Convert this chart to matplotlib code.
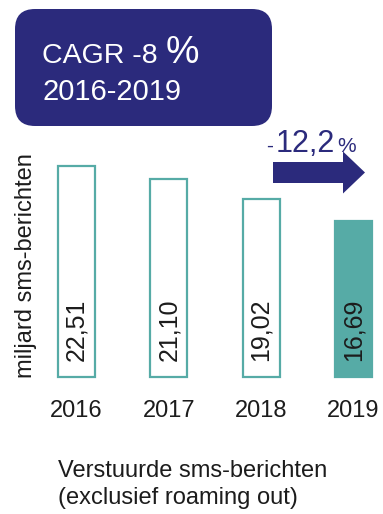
import matplotlib
matplotlib.use("Agg")
import matplotlib.pyplot as plt
from matplotlib.patches import FancyBboxPatch, FancyArrow

years = ["2016", "2017", "2018", "2019"]
sms_billions = [22.51, 21.10, 19.02, 16.69]
value_labels = ["22,51", "21,10", "19,02", "16,69"]
cagr_text = "CAGR -8"
cagr_period = "2016-2019"
change_value = "12,2"
y_label = "miljard sms-berichten"
caption = ["Verstuurde sms-berichten", "(exclusief roaming out)"]

TEAL = "#56aba6"
NAVY = "#2b2a7c"
INK = "#1c1c1c"

plt.rcParams["font.family"] = ["Liberation Sans", "DejaVu Sans"]

W, H = 383, 514
fig = plt.figure(figsize=(W / 100, H / 100), dpi=100)

# bar axes spans the whole figure; limits chosen so bars sit in their slots
ax = fig.add_axes([0, 0, 1, 1])
step, x0 = 92.3, 76.5
ax.set_xlim(-x0 / step, (W - x0) / step)
scale, base = 9.37, 377
ax.set_ylim((base - H) / scale, base / scale)
ax.axis("off")

for i, (v, lab) in enumerate(zip(sms_billions, value_labels)):
    last = i == len(sms_billions) - 1
    ax.bar(i, v, width=0.4, color=TEAL if last else "white",
           edgecolor=TEAL, linewidth=1.6, zorder=2)
    ax.text(i, 5.0, lab, rotation=90, ha="center", va="center",
            fontsize=18, color=INK, zorder=3)
    ax.text(i, -3.6, years[i], ha="center", va="center",
            fontsize=17, color=INK)

# overlay in pixel coordinates for the annotations
ov = fig.add_axes([0, 0, 1, 1])
ov.set_xlim(0, W)
ov.set_ylim(H, 0)
ov.axis("off")
ov.patch.set_alpha(0)

box = FancyBboxPatch((15, 9), 257, 117, boxstyle="round,pad=0,rounding_size=20",
                     facecolor=NAVY, edgecolor="none")
ov.add_patch(box)
ov.text(42, 63, cagr_text, fontsize=20.5, color="white", va="baseline")
ov.text(166, 63, "%", fontsize=27, color="white", va="baseline")
ov.text(42, 100, cagr_period, fontsize=21, color="white", va="baseline")

ov.add_patch(FancyArrow(273, 172.5, 92, 0, width=21, head_width=42,
                        head_length=22, length_includes_head=True,
                        facecolor=NAVY, edgecolor="none"))
ov.text(266, 152, "-", fontsize=15, color=NAVY, va="baseline")
ov.text(276, 152, change_value, fontsize=22, color=NAVY, va="baseline")
ov.text(337, 152, "%", fontsize=15, color=NAVY, va="baseline")

ov.text(26, 266, y_label, rotation=90, ha="center", va="center",
        fontsize=17, color=INK)
ov.text(58, 471, caption[0], ha="left", va="center", fontsize=17, color=INK)
ov.text(58, 498, caption[1], ha="left", va="center", fontsize=17, color=INK)

fig.savefig("out.png", dpi=100)
